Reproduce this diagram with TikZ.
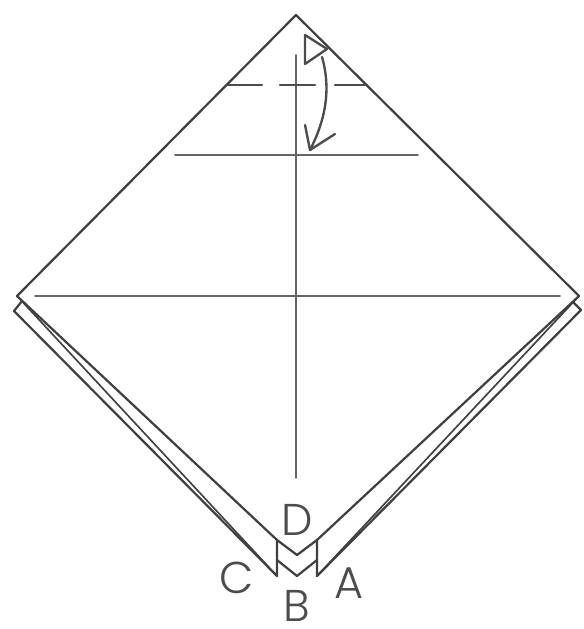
\documentclass[tikz,border=0pt]{standalone}
\usepackage{fontspec}
\setmainfont{Poppins Light}
\tikzset{edge/.style={line width=1.9pt,draw=black!75},
crease/.style={line width=1.3pt,draw=black!60},
foldmark/.style={line width=2pt,draw=black!70},
letter/.style={inner sep=0pt,text=black!70}}
\begin{document}
\begin{tikzpicture}[font=\fontsize{38}{38}\selectfont,line join=round, line cap=round, >=stealth,x=0.3mm,y=-0.3mm]
\useasboundingbox (0,0) rectangle (583,629);
\coordinate (T) at (296,15);
\coordinate (L) at (17,296);
\coordinate (R) at (579,296);
\coordinate (Ln) at (22,301);
\coordinate (Rn) at (573,302);
\coordinate (Lb) at (14,311);
\coordinate (Rb) at (581,310);
\coordinate (Cf) at (277,540);
\coordinate (Af) at (317,540);
\coordinate (Cb) at (277,576);
\coordinate (Ab) at (317,576);
\coordinate (Df) at (297,555);
\coordinate (Dm) at (297,576);
\draw[edge] (Af)--(R)--(T)--(L)--(Cf);
\draw[edge] (Ln)--(Lb)--(Cb)--(Cf);
\draw[edge] (Rn)--(Rb)--(Ab)--(Af);
\draw[edge] (Cf)--(Df)--(Af);
\draw[edge] (277,560)--(Dm)--(317,560);
\draw[edge,line width=1.4pt] (L)--(Cb);
\draw[edge,line width=1.4pt] (R)--(Ab);
\draw[crease] (35,296)--(560,296);
\draw[crease] (175,155)--(418,155);
\draw[crease] (296,55)--(296,478);
\draw[foldmark] (228,85)--(262,85);
\draw[foldmark] (280,85)--(315,85);
\draw[foldmark] (335,85)--(365,85);
% fold arrow
\draw[foldmark] (305,35)--(327,49)--(305,64)--cycle;
\draw[foldmark] (322,57) .. controls (330,85) and (328,115) .. (310,150);
\draw[foldmark] (305,125)--(310,150)--(335,134);
\node[letter] (D) at (297,520) {D};
\node[letter] (C) at (237,578) {C};
\node[letter] (B) at (297,606) {B};
\node[letter] (A) at (349,583) {A};
\end{tikzpicture}
\end{document}
